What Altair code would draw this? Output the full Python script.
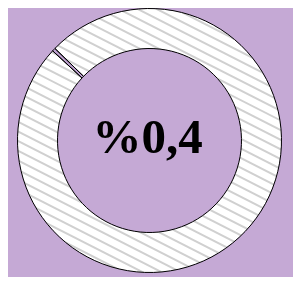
import math
import altair as alt
import pandas as pd

# --- data ---
labels = ["pay", "kalan"]
values = [0.4, 99.6]
orders = [0, 1]
center_label = ["%0,4"]

# --- style ---
BG = "#c5a9d5"
SLICE = "#bda0cf"
CX, CY = 141.5, 132.5
R_OUT, R_IN = 132, 92
START = -0.824

df = pd.DataFrame({"label": labels, "value": values, "order": orders})
one = pd.DataFrame({"t": center_label})

# decorative hatch lines (style only)
ang = math.radians(27)
dx, dy = math.cos(ang), math.sin(ang)
nx, ny = -dy, dx
step = 8.6
rows = []
for k in range(-18, 19):
    ox, oy = CX + k * step * nx, CY + k * step * ny
    rows.append({"x": ox - 220 * dx, "y": oy - 220 * dy, "x2": ox + 220 * dx, "y2": oy + 220 * dy})
hatch = pd.DataFrame(rows)

theta_scale = alt.Scale(domain=[0, 100], range=[START, START + 2 * math.pi])

ring = alt.Chart(one).mark_arc(
    theta=0, theta2=2 * math.pi, radius=R_OUT, radius2=R_IN, fill="white"
).encode(x=alt.value(CX), y=alt.value(CY))

lines = alt.Chart(hatch).mark_rule(stroke="#d0d0d0", strokeWidth=2).encode(
    x=alt.X("x:Q", scale=None, axis=None),
    y=alt.Y("y:Q", scale=None, axis=None),
    x2="x2:Q",
    y2="y2:Q",
)

outer_cover = alt.Chart(one).mark_arc(
    theta=0, theta2=2 * math.pi, radius=500, radius2=R_OUT, fill=BG
).encode(x=alt.value(CX), y=alt.value(CY))

inner_cover = alt.Chart(one).mark_arc(
    theta=0, theta2=2 * math.pi, radius=R_IN, radius2=0, fill=BG
).encode(x=alt.value(CX), y=alt.value(CY))

slices = alt.Chart(df).mark_arc(
    radius=R_OUT, radius2=R_IN, stroke="black", strokeWidth=1
).encode(
    theta=alt.Theta("value:Q", stack=True, scale=theta_scale),
    order=alt.Order("order:Q"),
    fill=alt.Fill("label:N", scale=alt.Scale(domain=labels, range=[SLICE, "rgba(0,0,0,0)"]), legend=None),
    x=alt.value(CX),
    y=alt.value(CY),
)

text = alt.Chart(one).mark_text(
    font="Liberation Serif", fontWeight="bold", fontSize=49,
    align="center", baseline="alphabetic", color="black"
).encode(text="t:N", x=alt.value(139.5), y=alt.value(145))

chart = alt.layer(ring, lines, outer_cover, inner_cover, slices, text).properties(
    width=285,
    height=269,
    autosize=alt.AutoSizeParams(type="none"),
    padding=0,
    background=BG,
).configure_view(stroke=None)

chart.save("out.html", embed_options={"renderer": "svg", "actions": False})
